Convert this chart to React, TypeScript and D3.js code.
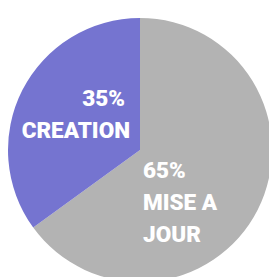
import React from 'react';
import * as d3 from 'd3';

const labels = ['MISE A JOUR', 'CREATION'];
const values = [65, 35];
const colors = ['#B3B3B3', '#7574D0'];

const width = 269;
const height = 277;
const cx = 140;
const cy = 150;
const radius = 132;

export default function App() {
  const pie = d3.pie<number>().sort(null).startAngle(0).endAngle(2 * Math.PI);
  const arcs = pie(values);
  const arc = d3.arc<d3.PieArcDatum<number>>().innerRadius(0).outerRadius(radius);

  const font = { fontFamily: 'Roboto, sans-serif', fontWeight: 900, fontSize: 22.5, fill: '#fff' };

  return (
    <div style={{ position: 'absolute', left: 0, top: 0 }}>
      <svg width={width} height={height}>
        <rect width={width} height={height} fill="#fff" />
        <g transform={`translate(${cx},${cy})`}>
          {arcs.map((a, i) => (
            <path key={labels[i]} d={arc(a) || ''} fill={colors[i]} />
          ))}
          {/* CREATION label, right aligned left of center */}
          <text x={-15} y={-44} textAnchor="end" style={font}>{values[1]}%</text>
          <text x={-10} y={-12} textAnchor="end" style={font}>{labels[1]}</text>
          {/* MISE A JOUR label, left aligned right of center */}
          <text x={3} y={28} style={font}>{values[0]}%</text>
          <text x={3} y={60} style={font}>MISE A</text>
          <text x={3} y={92} style={font}>JOUR</text>
        </g>
      </svg>
    </div>
  );
}
